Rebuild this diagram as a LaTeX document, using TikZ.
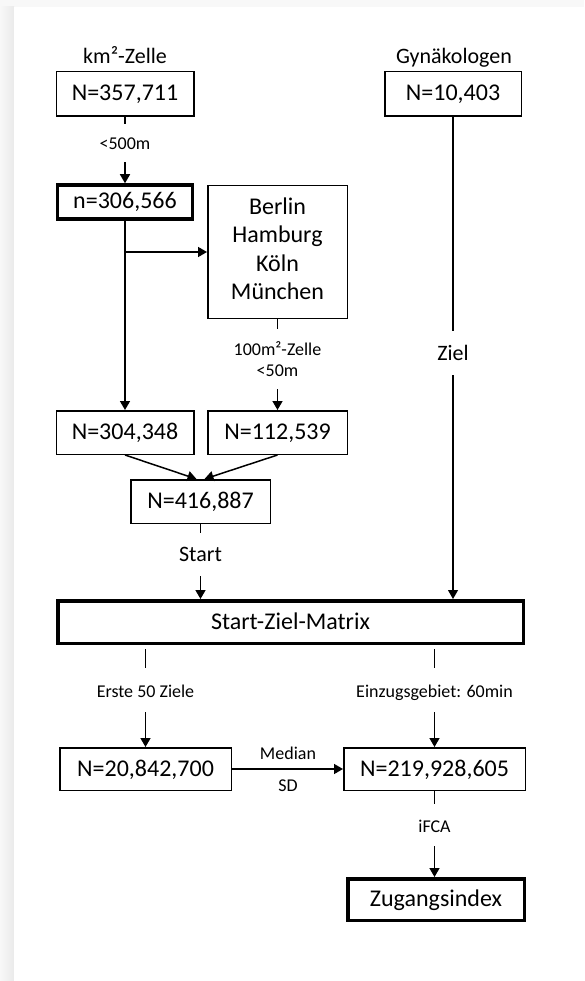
\documentclass[tikz,border=0pt]{standalone}
\usepackage{fontspec}
\setmainfont{Carlito}
\usetikzlibrary{arrows.meta,calc}
\definecolor{shadelight}{RGB}{248,248,248}
\definecolor{shadedark}{RGB}{234,234,234}
\begin{document}
\begin{tikzpicture}[x=1pt,y=-1pt,
  box/.style={draw, line width=1.5pt, inner sep=0pt, font=\fontsize{24}{29}\selectfont, text height=14pt, text depth=0pt},
  thickbox/.style={box, line width=3.5pt},
  citybox/.style={draw, line width=1.5pt, inner sep=0pt},
  citytext/.style={inner sep=0pt, align=center, font=\fontsize{24}{28.5}\selectfont, yshift=3pt},
  lab/.style={fill=white, inner sep=0pt, font=\fontsize{18}{21}\selectfont, text height=14pt, text depth=0pt},
  labtwo/.style={fill=white, inner sep=0pt, align=center, font=\fontsize{18}{21}\selectfont},
  toplabel/.style={inner sep=0pt, font=\fontsize{22}{26}\selectfont},
  bigl/.style={fill=white, inner sep=0pt, font=\fontsize{22}{26}\selectfont, text height=14pt, text depth=0pt},
  arr/.style={line width=1.5pt, -{Triangle[length=9pt,width=10pt]}},
  thinarr/.style={line width=1.1pt, -{Triangle[length=9pt,width=10pt]}},
]
\useasboundingbox (0,0) rectangle (584,981);
% background with light shadow
\fill[shadelight] (0,0) rectangle (584,981);
\shade[left color=shadelight, right color=shadedark] (0,7) rectangle (14,981);
\fill[white] (14,7) rectangle (584,981);

% headings
\node[toplabel, anchor=base] (hkm) at (125,64) {km²-Zelle};
\node[toplabel, anchor=base] (hgyn) at (454,64) {Gynäkologen};

% boxes
\node[box, minimum width=137.5pt, minimum height=44.5pt] (b1) at (125,94) {N=357,711};
\node[box, minimum width=136.5pt, minimum height=44.5pt] (gyn) at (453,94) {N=10,403};
\node[thickbox, minimum width=135pt, minimum height=34pt] (n306) at (125,202) {n=306,566};
\node[citybox, minimum width=139.5pt, minimum height=132.5pt,
      label={[citytext]center:{Berlin\\Hamburg\\Köln\\München}}] (berlin) at (277.5,252) {};
\node[box, minimum width=137.5pt, minimum height=43.5pt] (b304) at (125,432.5) {N=304,348};
\node[box, minimum width=139.5pt, minimum height=43.5pt] (b112) at (277.5,432.5) {N=112,539};
\node[box, minimum width=139.5pt, minimum height=43.5pt] (b416) at (200.5,501.5) {N=416,887};
\node[thickbox, minimum width=465.5pt, minimum height=42.5pt] (szm) at (290.5,622) {Start-Ziel-Matrix};
\node[box, minimum width=171.5pt, minimum height=42.5pt] (b20) at (145.5,769) {N=20,842,700};
\node[box, minimum width=181.5pt, minimum height=42.5pt] (b219) at (434.5,769) {N=219,928,605};
\node[thickbox, minimum width=176.5pt, minimum height=41.5pt] (zug) at (436,899.5) {Zugangsindex};

% connectors
\draw[arr] (b1.south) -- (n306.north);
\draw[arr] (n306.south) -- (b304.north);
\coordinate (br) at (n306.south |- berlin.west);
\draw[arr] (br) -- (berlin.west);
\draw[arr] (berlin.south) -- (b112.north);
\draw[arr] (b304.south) -- ([xshift=-4pt]b416.north);
\draw[arr] (b112.south) -- ([xshift=4pt]b416.north);
\draw[arr] (b416.south) -- (b416.south |- szm.north);
\draw[thinarr] (gyn.south) -- (gyn.south |- szm.north);
\draw[arr, shorten <=4pt] (b20.north |- szm.south) -- (b20.north);
\draw[arr, shorten <=4pt] (b219.north |- szm.south) -- (b219.north);
\draw[arr] (b20.east) -- (b219.west);
\draw[arr] (b219.south) -- (b219.south |- zug.north);

% connector labels
\node[lab, minimum height=38pt] (l500) at (125,143) {<500m};
\node[labtwo, minimum height=60pt] (l100) at (277.5,359) {100m²-Zelle\\<50m};
\node[bigl, minimum height=43pt] (lstart) at (200.5,554.5) {Start};
\node[bigl, minimum height=44pt] (lziel) at (453,353) {Ziel};
\node[lab, minimum height=44pt] (lerste) at (145.5,690) {Erste 50 Ziele};
\node[lab, minimum height=44pt] (lein) at (434.5,690) {Einzugsgebiet: 60min};
\node[lab, minimum height=42pt] (lifca) at (434.5,825) {iFCA};
\node[inner sep=0pt, anchor=base, font=\fontsize{18}{21}\selectfont] (lmed) at (288,759) {Median};
\node[inner sep=0pt, anchor=base, font=\fontsize{18}{21}\selectfont] (lsd) at (288,791) {SD};
\end{tikzpicture}
\end{document}
